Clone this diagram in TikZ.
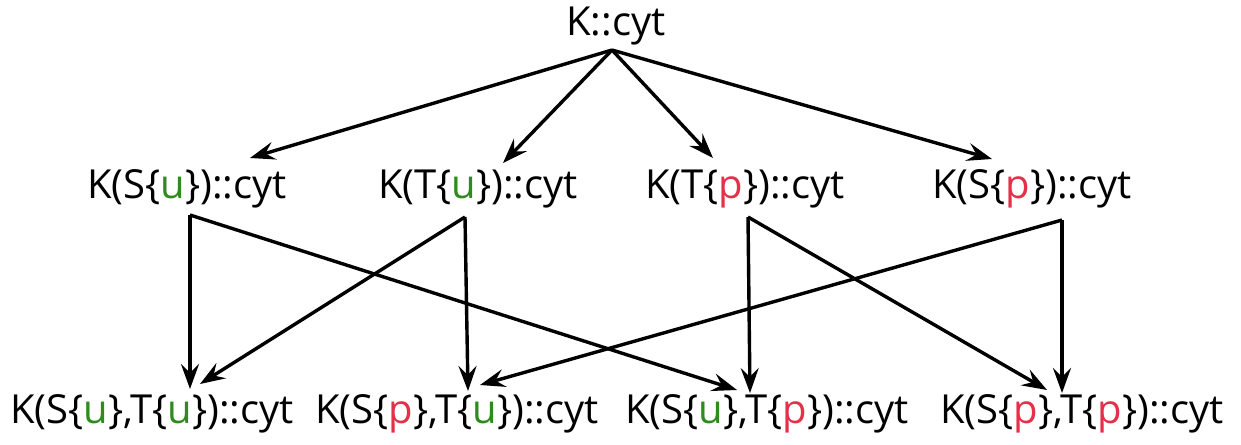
\documentclass[tikz,border=0pt]{standalone}
\usepackage{fontspec}
\setmainfont{Open Sans}
\usetikzlibrary{arrows.meta}
\definecolor{unphos}{HTML}{2E8B1E}
\definecolor{phos}{HTML}{E5304A}
\newcommand{\ust}{\textcolor{unphos}{u}}
\newcommand{\pst}{\textcolor{phos}{p}}
\tikzset{
  lbl/.style={anchor=base, inner sep=0pt, font=\fontsize{40}{48}\selectfont},
  edge/.style={line width=3.4pt, -{Stealth[length=25pt,width=18pt,inset=9pt]}},
}
\begin{document}
\begin{tikzpicture}[x=1pt,y=-1pt]
\useasboundingbox (0,0) rectangle (1241,444);

% states
\node[lbl] (k)    at (616,36)  {K::cyt};
\node[lbl] (su)   at (187,198) {K(S\{\ust\})::cyt};
\node[lbl] (tu)   at (478,198) {K(T\{\ust\})::cyt};
\node[lbl] (tp)   at (745,198) {K(T\{\pst\})::cyt};
\node[lbl] (sp)   at (1032,198) {K(S\{\pst\})::cyt};
\node[lbl] (sutu) at (152,423) {K(S\{\ust\},T\{\ust\})::cyt};
\node[lbl] (sptu) at (457,423) {K(S\{\pst\},T\{\ust\})::cyt};
\node[lbl] (sutp) at (767,423) {K(S\{\ust\},T\{\pst\})::cyt};
\node[lbl] (sptp) at (1082,423) {K(S\{\pst\},T\{\pst\})::cyt};

% connection points
\coordinate (k-out)  at (612,50);
\coordinate (su-in)  at (250,158);
\coordinate (tu-in)  at (503,163);
\coordinate (tp-in)  at (713,158);
\coordinate (sp-in)  at (992,159);
\coordinate (su-out) at (190,215);
\coordinate (tu-out) at (465,217);
\coordinate (tp-out) at (748,217);
\coordinate (sp-out) at (1062,220);
\coordinate (sutu-a) at (190,389);
\coordinate (sutu-b) at (200,384);
\coordinate (sptu-a) at (468,391);
\coordinate (sptu-b) at (480,385);
\coordinate (sutp-a) at (750,393);
\coordinate (sutp-b) at (737,390);
\coordinate (sptp-a) at (1062,393);
\coordinate (sptp-b) at (1047,390);

% first phosphorylation
\draw[edge] (k-out) -- (su-in);
\draw[edge] (k-out) -- (tu-in);
\draw[edge] (k-out) -- (tp-in);
\draw[edge] (k-out) -- (sp-in);

% second phosphorylation
\draw[edge] (su-out) -- (sutu-a);
\draw[edge] (su-out) -- (sutp-b);
\draw[edge] (tu-out) -- (sutu-b);
\draw[edge] (tu-out) -- (sptu-a);
\draw[edge] (tp-out) -- (sutp-a);
\draw[edge] (tp-out) -- (sptp-b);
\draw[edge] (sp-out) -- (sptu-b);
\draw[edge] (sp-out) -- (sptp-a);
\end{tikzpicture}
\end{document}
